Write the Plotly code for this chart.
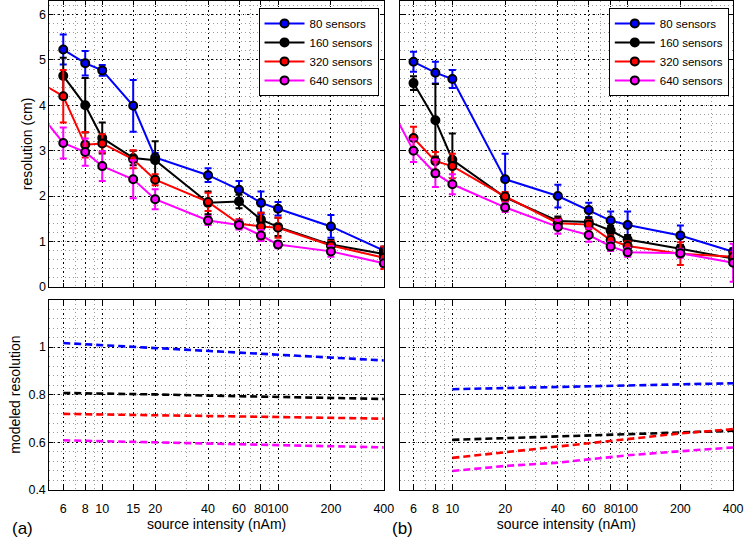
import math
import plotly.graph_objects as go

# ---------------- data ----------------
intensity_a = [4, 6, 8, 10, 15, 20, 40, 60, 80, 100, 200, 400]
blue_a = [None, 5.23, 4.93, 4.77, 3.99, 2.85, 2.46, 2.14, 1.85, 1.72, 1.33, 0.80]
blue_a_err = [0, 0.33, 0.27, 0.12, 0.57, 0.10, 0.15, 0.19, 0.25, 0.15, 0.25, 0.08]
black_a = [None, 4.65, 4.00, 3.28, 2.84, 2.79, 1.85, 1.88, 1.48, 1.32, 0.93, 0.72]
black_a_err = [0, 0.40, 0.60, 0.34, 0.16, 0.42, 0.25, 0.15, 0.15, 0.20, 0.10, 0.10]
red_a = [4.60, 4.20, 3.13, 3.16, 2.81, 2.36, 1.87, 1.39, 1.33, 1.30, 0.91, 0.64]
red_a_err = [0, 0.58, 0.28, 0.20, 0.20, 0.12, 0.20, 0.10, 0.30, 0.22, 0.10, 0.25]
mag_a = [4.02, 3.17, 2.97, 2.66, 2.37, 1.93, 1.46, 1.36, 1.13, 0.93, 0.78, 0.52]
mag_a_err = [0, 0.34, 0.30, 0.33, 0.42, 0.22, 0.10, 0.10, 0.12, 0.08, 0.12, 0.08]

intensity_b = [4, 6, 8, 10, 20, 40, 60, 80, 100, 200, 400]
blue_b = [None, 4.96, 4.72, 4.58, 2.37, 2.00, 1.69, 1.46, 1.36, 1.13, 0.77]
blue_b_err = [0, 0.22, 0.24, 0.20, 0.56, 0.25, 0.16, 0.20, 0.30, 0.22, 0.08]
black_b = [None, 4.49, 3.67, 2.80, 1.97, 1.45, 1.43, 1.24, 1.04, 0.84, 0.62]
black_b_err = [0, 0.15, 0.80, 0.58, 0.08, 0.10, 0.10, 0.10, 0.10, 0.08, 0.10]
red_b = [None, 3.28, 2.77, 2.66, 1.99, 1.40, 1.37, 1.03, 0.90, 0.73, 0.66]
red_b_err = [0, 0.25, 0.20, 0.27, 0.10, 0.10, 0.10, 0.10, 0.10, 0.25, 0.10]
mag_b = [4.28, 3.00, 2.50, 2.26, 1.75, 1.32, 1.14, 0.89, 0.76, 0.74, 0.53]
mag_b_err = [0, 0.25, 0.30, 0.22, 0.10, 0.15, 0.15, 0.10, 0.10, 0.10, 0.42]

model_x_a = [6, 8, 10, 15, 20, 40, 60, 80, 100, 200, 400]
model_blue_a = [1.017, 1.012, 1.008, 1.000, 0.995, 0.985, 0.977, 0.971, 0.968, 0.955, 0.944]
model_black_a = [0.807, 0.806, 0.805, 0.803, 0.801, 0.796, 0.793, 0.791, 0.790, 0.786, 0.782]
model_red_a = [0.719, 0.718, 0.717, 0.716, 0.715, 0.712, 0.709, 0.707, 0.706, 0.703, 0.699]
model_mag_a = [0.608, 0.606, 0.605, 0.602, 0.600, 0.595, 0.591, 0.589, 0.587, 0.583, 0.578]

model_x_b = [10, 15, 20, 40, 60, 80, 100, 200, 400]
model_blue_b = [0.823, 0.826, 0.829, 0.834, 0.837, 0.839, 0.840, 0.844, 0.848]
model_black_b = [0.610, 0.614, 0.617, 0.623, 0.628, 0.632, 0.635, 0.642, 0.648]
model_red_b = [0.534, 0.548, 0.558, 0.579, 0.593, 0.604, 0.613, 0.637, 0.655]
model_mag_b = [0.479, 0.491, 0.500, 0.514, 0.527, 0.537, 0.545, 0.562, 0.578]

series_names = ["80 sensors", "160 sensors", "320 sensors", "640 sensors"]
series_colors = ["#0000ff", "#000000", "#ff0000", "#ff00ff"]

x_ticks_a = [6, 8, 10, 15, 20, 40, 60, 80, 100, 200, 400]
x_ticklabels_a = ["6", "8", "10", "15", "20", "40", "60", "80", "100", "200", "400"]
x_ticks_b = [6, 8, 10, 20, 40, 60, 80, 100, 200, 400]
x_ticklabels_b = ["6", "8", "10", "20", "40", "60", "80", "100", "200", "400"]
x_minor = [5, 7, 9, 30, 50, 70, 90, 300]
y_ticks_top = [0, 1, 2, 3, 4, 5, 6]
y_ticks_bot = [0.4, 0.6, 0.8, 1.0]
y_ticklabels_bot = ["0.4", "0.6", "0.8", "1"]

FONT = "Liberation Sans, Arial, Helvetica, sans-serif"

fig = go.Figure()

top_sets = [
    ("x", "y", intensity_a, [(blue_a, blue_a_err), (black_a, black_a_err), (red_a, red_a_err), (mag_a, mag_a_err)], "legend"),
    ("x2", "y2", intensity_b, [(blue_b, blue_b_err), (black_b, black_b_err), (red_b, red_b_err), (mag_b, mag_b_err)], "legend2"),
]
for xa, ya, xs, groups, leg in top_sets:
    for (vals, errs), name, col in zip(groups, series_names, series_colors):
        fig.add_trace(go.Scatter(
            x=xs, y=vals, xaxis=xa, yaxis=ya, mode="lines+markers", name=name,
            legend=leg,
            line=dict(color=col, width=2),
            marker=dict(color=col, size=8, line=dict(color="black", width=2)),
            error_y=dict(type="data", array=errs, visible=True, color=col, thickness=2, width=3.5),
        ))

bot_sets = [
    ("x3", "y3", model_x_a, [model_blue_a, model_black_a, model_red_a, model_mag_a]),
    ("x4", "y4", model_x_b, [model_blue_b, model_black_b, model_red_b, model_mag_b]),
]
for xa, ya, xs, groups in bot_sets:
    for vals, name, col in zip(groups, series_names, series_colors):
        fig.add_trace(go.Scatter(
            x=xs, y=vals, xaxis=xa, yaxis=ya, mode="lines", name=name, showlegend=False,
            line=dict(color=col, width=2.6, dash="7px,4px"),
        ))

TOP_Y = [1 - 290 / 547, 1.0]
BOT_Y = [1 - 496 / 547, 1 - 303 / 547]
LEFT_X = [50 / 753, 389 / 753]
RIGHT_X = [405 / 753, 743 / 753]

major_grid = dict(showgrid=True, gridcolor="black", gridwidth=1, griddash="1.5px,3px")
minor_grid = dict(showgrid=True, gridcolor="#9a9a9a", gridwidth=1, griddash="1px,3px", ticks="")


def xaxis(domain, anchor, labels, tickvals, ticktext, title=None):
    d = dict(
        type="log", domain=domain, anchor=anchor,
        range=[math.log10(5), math.log10(400)],
        tickmode="array", tickvals=tickvals, ticktext=ticktext,
        showticklabels=labels, tickangle=0, ticklabelstandoff=7,
        showline=True, linecolor="black", linewidth=1, mirror="ticks",
        ticks="inside", ticklen=4, tickcolor="black",
        zeroline=False,
        tickfont=dict(family=FONT, size=12.5, color="black"),
        minor=dict(tickvals=x_minor, **minor_grid),
        **major_grid,
    )
    if title:
        d["title"] = dict(text=title, font=dict(family=FONT, size=14, color="black"), standoff=0)
    return d


def yaxis(domain, anchor, rng, tickvals, ticktext, minor_dtick, labels, title=None, standoff=4):
    d = dict(
        domain=domain, anchor=anchor, range=rng,
        tickmode="array", tickvals=tickvals, ticktext=ticktext,
        showticklabels=labels,
        showline=True, linecolor="black", linewidth=1, mirror="ticks",
        ticks="inside", ticklen=4, tickcolor="black",
        zeroline=False,
        tickfont=dict(family=FONT, size=12.5, color="black"),
        minor=dict(dtick=minor_dtick, tick0=0, **minor_grid),
        **major_grid,
    )
    if title:
        d["title"] = dict(text=title, font=dict(family=FONT, size=14, color="black"), standoff=standoff)
    return d


legend_common = dict(
    xanchor="left", yanchor="top", bgcolor="white", bordercolor="black", borderwidth=1,
    font=dict(family=FONT, size=11.5, color="black"), tracegroupgap=0, itemwidth=40,
)

fig.update_layout(
    width=753, height=547,
    margin=dict(l=0, r=0, t=0, b=0),
    paper_bgcolor="white", plot_bgcolor="white",
    font=dict(family=FONT, color="black"),
    xaxis=xaxis(LEFT_X, "y", False, x_ticks_a, x_ticklabels_a),
    yaxis=yaxis(TOP_Y, "x", [0, 6.3], y_ticks_top, [str(v) for v in y_ticks_top], 0.2, True, "resolution (cm)", 2),
    xaxis2=xaxis(RIGHT_X, "y2", False, x_ticks_b, x_ticklabels_b),
    yaxis2=yaxis(TOP_Y, "x2", [0, 6.3], y_ticks_top, [str(v) for v in y_ticks_top], 0.2, False),
    xaxis3=xaxis(LEFT_X, "y3", True, x_ticks_a, x_ticklabels_a, "source intensity (nAm)"),
    yaxis3=yaxis(BOT_Y, "x3", [0.4, 1.2], y_ticks_bot, y_ticklabels_bot, 0.04, True, "modeled resolution", 4),
    xaxis4=xaxis(RIGHT_X, "y4", True, x_ticks_b, x_ticklabels_b, "source intensity (nAm)"),
    yaxis4=yaxis(BOT_Y, "x4", [0.4, 1.2], y_ticks_bot, y_ticklabels_bot, 0.04, False),
    legend=dict(x=262 / 753, y=1 - 7 / 547, **legend_common),
    legend2=dict(x=617 / 753, y=1 - 7 / 547, **legend_common),
    annotations=[
        dict(text="(a)", x=10 / 753, y=1 - 535 / 547, xref="paper", yref="paper",
             xanchor="left", yanchor="middle", showarrow=False,
             font=dict(family=FONT, size=17, color="black")),
        dict(text="(b)", x=395 / 753, y=1 - 535 / 547, xref="paper", yref="paper",
             xanchor="left", yanchor="middle", showarrow=False,
             font=dict(family=FONT, size=17, color="black")),
    ],
)

fig.write_html("out.html")
